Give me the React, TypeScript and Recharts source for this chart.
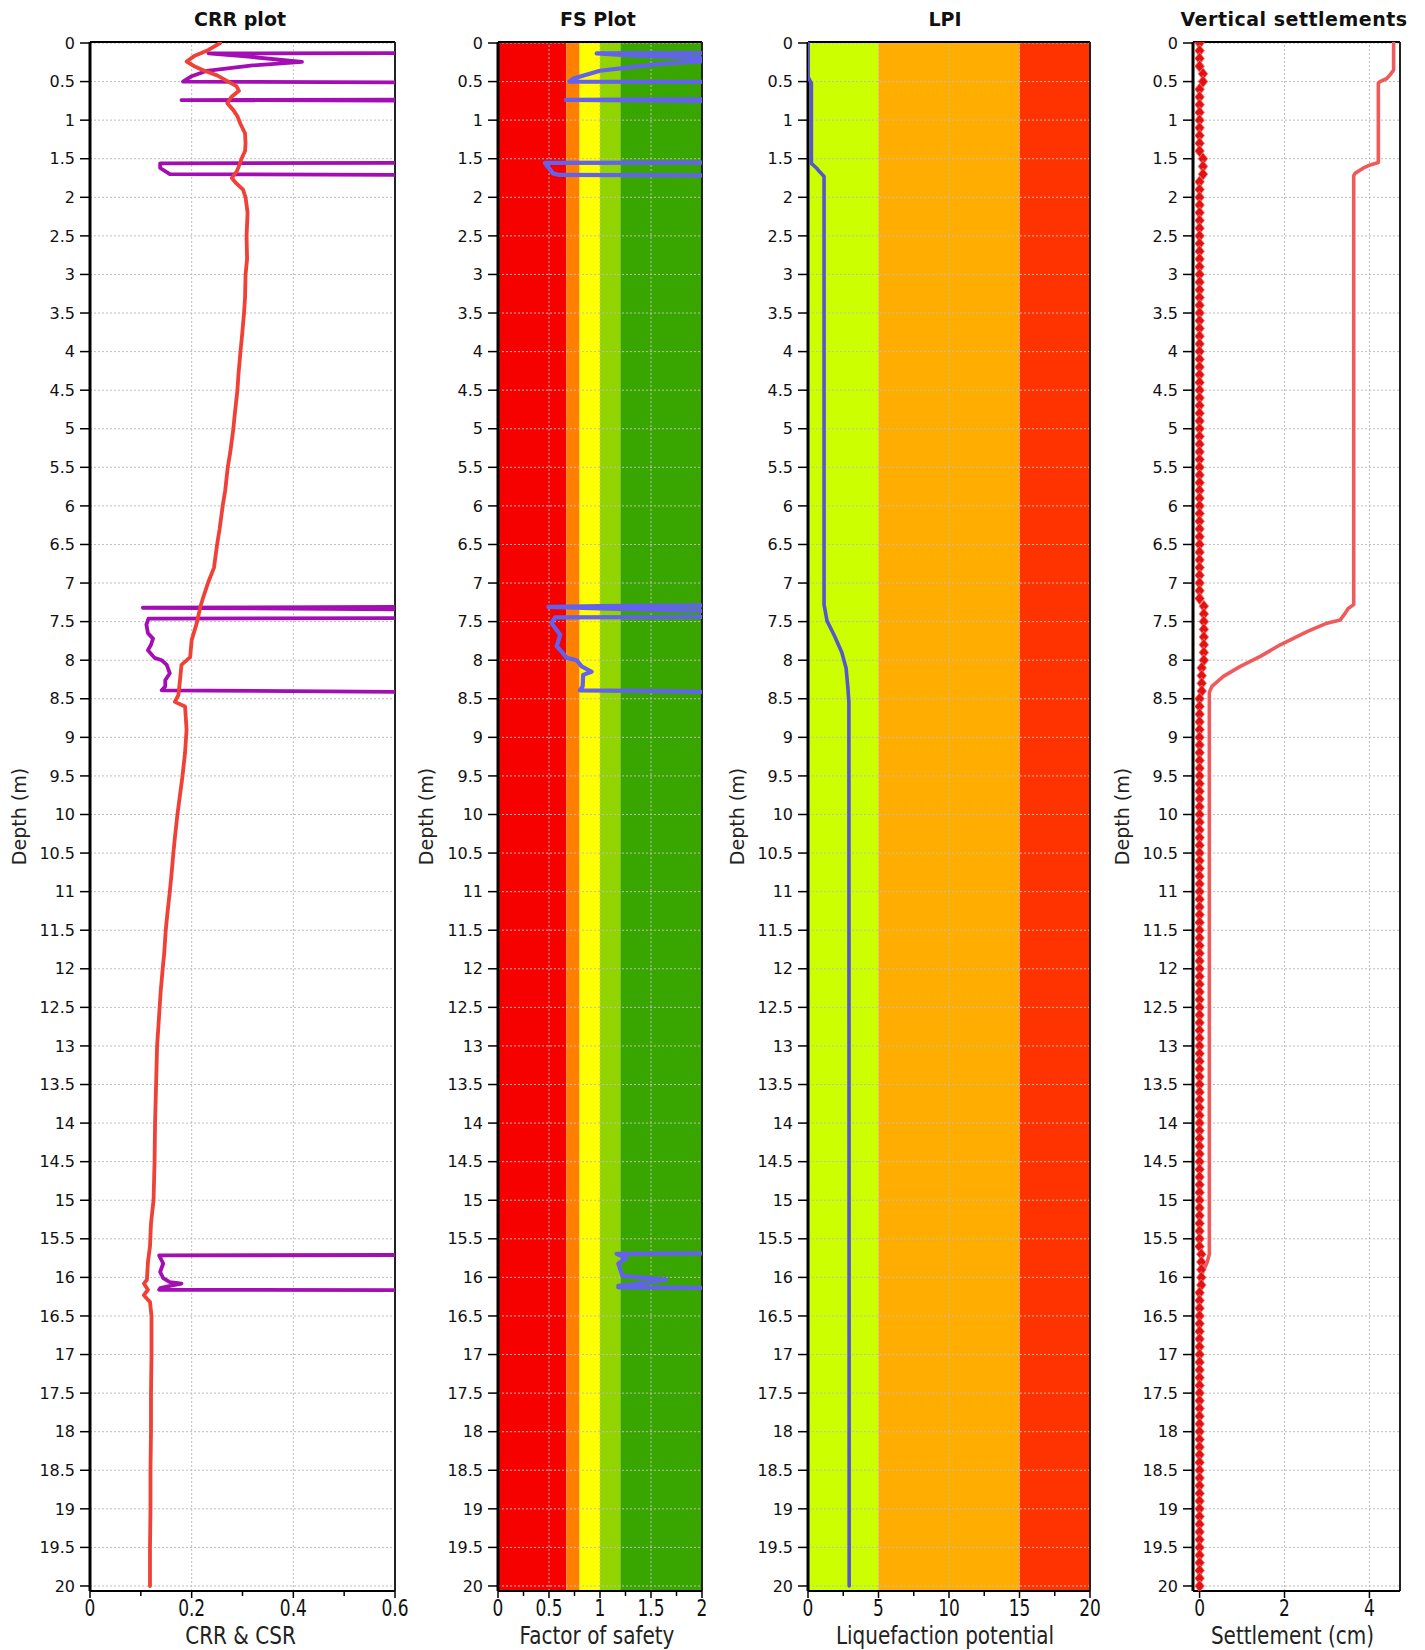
import React from 'react';
import { ScatterChart, Scatter, XAxis, YAxis, ReferenceArea, ReferenceLine } from 'recharts';

const FONT = '"DejaVu Sans", Verdana, sans-serif';

// ---------- depth axis ----------
const depthTicks = [0,0.5,1,1.5,2,2.5,3,3.5,4,4.5,5,5.5,6,6.5,7,7.5,8,8.5,9,9.5,10,10.5,11,11.5,12,12.5,13,13.5,14,14.5,15,15.5,16,16.5,17,17.5,18,18.5,19,19.5,20];
const depthDomain: [number, number] = [-0.013, 20.065];

// ---------- CRR plot ----------
const crrTicks = [0,0.1,0.2,0.3,0.4,0.5,0.6];
const crrMajor = [0,0.2,0.4,0.6];
const crrGrid = [0.2,0.4];
// [depth, CRR]
const crrCurve = [[0,0.256],[0.09,0.233],[0.17,0.205],[0.24,0.19],[0.3,0.205],[0.36,0.225],[0.42,0.25],[0.5,0.272],[0.56,0.288],[0.62,0.293],[0.7,0.278],[0.78,0.27],[0.87,0.282],[0.95,0.29],[1.05,0.296],[1.17,0.305],[1.3,0.306],[1.4,0.305],[1.5,0.298],[1.58,0.294],[1.66,0.289],[1.75,0.279],[1.82,0.288],[1.9,0.301],[2,0.306],[2.2,0.31],[2.5,0.308],[2.8,0.309],[3,0.306],[3.3,0.305],[3.5,0.303],[3.8,0.299],[4,0.296],[4.3,0.292],[4.5,0.29],[4.8,0.285],[5,0.282],[5.3,0.276],[5.5,0.271],[5.8,0.266],[6,0.261],[6.3,0.255],[6.5,0.25],[6.8,0.244],[7,0.232],[7.2,0.222],[7.31,0.217],[7.52,0.21],[7.74,0.2],[7.96,0.197],[8.06,0.18],[8.26,0.177],[8.45,0.174],[8.54,0.167],[8.6,0.187],[8.9,0.19],[9.2,0.187],[9.5,0.182],[9.8,0.176],[10,0.172],[10.3,0.167],[10.5,0.164],[10.8,0.16],[11,0.157],[11.3,0.152],[11.5,0.149],[11.8,0.146],[12,0.143],[12.3,0.139],[12.5,0.137],[12.8,0.134],[13,0.132],[13.5,0.13],[14,0.128],[14.5,0.127],[15,0.125],[15.3,0.12],[15.6,0.118],[15.8,0.114],[16.03,0.112],[16.08,0.106],[16.16,0.114],[16.23,0.106],[16.32,0.118],[16.5,0.121],[17,0.121],[17.5,0.12],[18,0.12],[18.5,0.119],[19,0.119],[19.5,0.118],[20,0.118]];
// [depth, CSR] segments (clipped at 0.6)
const csrTop = [[0.132,0.6],[0.134,0.233],[0.17,0.3],[0.245,0.417],[0.29,0.32],[0.36,0.23],[0.43,0.2],[0.5,0.183],[0.51,0.6]];
const csrSpike1 = [[0.735,0.6],[0.74,0.18],[0.745,0.6]];
const csrLayer1 = [[1.555,0.6],[1.56,0.138],[1.62,0.138],[1.7,0.157],[1.71,0.6]];
const csrSpike2 = [[7.31,0.6],[7.32,0.104],[7.34,0.6]];
const csrLayer2 = [[7.455,0.6],[7.46,0.115],[7.54,0.111],[7.65,0.114],[7.72,0.124],[7.8,0.12],[7.87,0.114],[7.97,0.127],[8.0,0.141],[8.06,0.151],[8.17,0.157],[8.26,0.148],[8.34,0.148],[8.39,0.141],[8.41,0.6]];
const csrLayer3 = [[15.71,0.6],[15.715,0.136],[15.82,0.144],[15.93,0.138],[16.01,0.144],[16.06,0.157],[16.08,0.18],[16.1,0.164],[16.14,0.138],[16.16,0.136],[16.165,0.6]];

// ---------- FS plot ----------
const fsTicks = [0,0.25,0.5,0.75,1,1.25,1.5,1.75,2];
const fsMajor = [0,0.5,1,1.5,2];
const fsGrid = [0.5,1,1.5];
const fsBandEdges = [0,0.67,0.8,1.0,1.2,2];
const fsBandColors = ['#f60000','#ff7f00','#ffff00','#92d400','#39a600'];
const fsTop = [[0.13,2],[0.135,0.967],[0.16,1.3],[0.18,1.7],[0.2,2],[0.24,2],[0.27,1.6],[0.31,1.33],[0.36,1.0],[0.42,0.84],[0.46,0.74],[0.5,0.7],[0.505,2]];
const fsSpike1 = [[0.73,2],[0.738,0.665],[0.745,1.4],[0.755,2]];
const fsLayer1 = [[1.55,2],[1.555,0.46],[1.69,0.54],[1.71,0.6],[1.715,2]];
const fsSpike2 = [[7.29,2],[7.3,1.0],[7.31,0.494],[7.33,1.0],[7.36,2]];
const fsLayer2 = [[7.44,2],[7.445,0.56],[7.52,0.526],[7.61,0.575],[7.67,0.61],[7.76,0.59],[7.82,0.575],[7.89,0.625],[7.97,0.673],[8.0,0.77],[8.08,0.82],[8.15,0.918],[8.19,0.835],[8.34,0.83],[8.39,0.804],[8.4,1.6],[8.41,2]];
const fsLayer3 = [[15.69,2],[15.695,1.163],[15.75,1.26],[15.82,1.18],[15.9,1.2],[15.98,1.22],[16.03,1.65],[16.09,1.33],[16.11,1.18],[16.13,1.18],[16.135,2]];

// ---------- LPI ----------
const lpiTicks = [0,2.5,5,7.5,10,12.5,15,17.5,20];
const lpiMajor = [0,5,10,15,20];
const lpiGrid = [5,10,15];
const lpiBandEdges = [0,5,15,20];
const lpiBandColors = ['#ccff00','#ffae00','#ff3300'];
const lpiCurve = [[0,0],[0.44,0],[0.48,0.12],[0.52,0.24],[1.56,0.24],[1.62,0.6],[1.67,0.83],[1.73,1.14],[7.28,1.14],[7.49,1.35],[7.69,1.89],[7.9,2.4],[8.1,2.7],[8.38,2.84],[8.55,2.9],[20,2.92]];

// ---------- Vertical settlements ----------
const setTicks = [0,2,4];
const setMajor = [0,2,4];
const setGrid = [2,4];
const setDomain: [number, number] = [-0.155, 4.72];
const settleCurve = [[0,4.57],[0.35,4.57],[0.41,4.49],[0.46,4.41],[0.5,4.25],[0.52,4.21],[1.55,4.21],[1.58,4.02],[1.62,3.86],[1.69,3.66],[1.72,3.63],[7.28,3.63],[7.33,3.5],[7.39,3.43],[7.48,3.31],[7.52,3.0],[7.63,2.53],[7.8,1.9],[7.95,1.43],[8.08,0.96],[8.21,0.56],[8.34,0.29],[8.39,0.25],[8.42,0.23],[15.7,0.23],[15.8,0.18],[15.9,0.1],[16.0,0.03],[16.1,0],[20,0]];
const markerDepths = [
0,0.1,0.2,0.3,0.4,0.5,0.6,0.7,0.8,0.9,
1,1.1,1.2,1.3,1.4,1.5,1.6,1.7,1.8,1.9,
2,2.1,2.2,2.3,2.4,2.5,2.6,2.7,2.8,2.9,
3,3.1,3.2,3.3,3.4,3.5,3.6,3.7,3.8,3.9,
4,4.1,4.2,4.3,4.4,4.5,4.6,4.7,4.8,4.9,
5,5.1,5.2,5.3,5.4,5.5,5.6,5.7,5.8,5.9,
6,6.1,6.2,6.3,6.4,6.5,6.6,6.7,6.8,6.9,
7,7.1,7.2,7.3,7.4,7.5,7.6,7.7,7.8,7.9,
8,8.1,8.2,8.3,8.4,8.5,8.6,8.7,8.8,8.9,
9,9.1,9.2,9.3,9.4,9.5,9.6,9.7,9.8,9.9,
10,10.1,10.2,10.3,10.4,10.5,10.6,10.7,10.8,10.9,
11,11.1,11.2,11.3,11.4,11.5,11.6,11.7,11.8,11.9,
12,12.1,12.2,12.3,12.4,12.5,12.6,12.7,12.8,12.9,
13,13.1,13.2,13.3,13.4,13.5,13.6,13.7,13.8,13.9,
14,14.1,14.2,14.3,14.4,14.5,14.6,14.7,14.8,14.9,
15,15.1,15.2,15.3,15.4,15.5,15.6,15.7,15.8,15.9,
16,16.1,16.2,16.3,16.4,16.5,16.6,16.7,16.8,16.9,
17,17.1,17.2,17.3,17.4,17.5,17.6,17.7,17.8,17.9,
18,18.1,18.2,18.3,18.4,18.5,18.6,18.7,18.8,18.9,
19,19.1,19.2,19.3,19.4,19.5,19.6,19.7,19.8,19.9,
20];
const markerValues = [
0,0,0,0,0.08,0.08,0,0,0,0,
0,0,0,0,0,0.08,0.08,0.08,0,0,
0,0,0,0,0,0,0,0,0,0,
0,0,0,0,0,0,0,0,0,0,
0,0,0,0,0,0,0,0,0,0,
0,0,0,0,0,0,0,0,0,0,
0,0,0,0,0,0,0,0,0,0,
0,0,0,0.1,0.1,0.1,0.1,0.1,0.1,0.1,
0.1,0.05,0.05,0.05,0.05,0,0,0,0,0,
0,0,0,0,0,0,0,0,0,0,
0,0,0,0,0,0,0,0,0,0,
0,0,0,0,0,0,0,0,0,0,
0,0,0,0,0,0,0,0,0,0,
0,0,0,0,0,0,0,0,0,0,
0,0,0,0,0,0,0,0,0,0,
0,0,0,0,0,0,0,0.04,0.04,0.04,
0.04,0.04,0,0,0,0,0,0,0,0,
0,0,0,0,0,0,0,0,0,0,
0,0,0,0,0,0,0,0,0,0,
0,0,0,0,0,0,0,0,0,0,
0];

// ---------- helpers ----------
const toPts = (arr: number[][]) => arr.map(([d, x]) => ({ d, x }));
const markerPts = markerDepths.map((d, i) => ({ d, x: markerValues[i] }));

const NoShape = () => <g />;
const Marker = (p: any) => {
  const { cx, cy } = p;
  return (
    <path d={`M${cx},${cy - 6} L${cx + 4.8},${cy} L${cx},${cy + 6} L${cx - 4.8},${cy} Z`} fill="#e31212" stroke="#f27a7a" strokeWidth={0.8} />
  );
};

const XTick = (props: any) => {
  const { x, y, payload, major } = props;
  const v = payload.value;
  const isMajor = major.indexOf(v) >= 0;
  return (
    <g>
      <line x1={x} x2={x} y1={y} y2={y + (isMajor ? 7 : 5)} stroke="#000" strokeWidth={1.5} />
      {isMajor ? (
        <g transform={`translate(${x},${y + 25}) scale(1,1.3)`}>
          <text x={0} y={0} textAnchor="middle" fontSize={17} fontFamily={FONT} fill="#111">{String(v)}</text>
        </g>
      ) : null}
    </g>
  );
};

const XTitle = (props: any) => {
  const { viewBox, text, shift, base } = props;
  const cx = viewBox.x + viewBox.width / 2 + shift;
  const by = viewBox.y + base;
  return (
    <g transform={`translate(${cx},${by}) scale(1,1.2)`}>
      <text x={0} y={0} textAnchor="middle" fontSize={20} fontFamily={FONT} fill="#222">{text}</text>
    </g>
  );
};

const YTitle = (props: any) => {
  const { viewBox, dx } = props;
  const cx = viewBox.x + dx;
  const cy = viewBox.y + viewBox.height / 2;
  return (
    <text x={cx} y={cy} transform={`rotate(-90 ${cx} ${cy})`} textAnchor="middle" dominantBaseline="central" fontSize={19} fontFamily={FONT} fill="#222">
      Depth (m)
    </text>
  );
};

type Cfg = {
  title: string; titleX: number; titleSpacing?: number;
  left: number; width: number; yw: number; right: number;
  domain: [number, number]; ticks: number[]; major: number[]; grid: number[];
  edges: number[]; colors: string[];
  xTitle: string; xShift: number; xBase: number; yDx: number;
};

const GRID = '#bdbdbd';

const renderPanel = (c: Cfg, series: React.ReactNode[]) => (
  <React.Fragment key={c.title}>
    <div style={{ position: 'absolute', left: c.titleX - 200, width: 400, top: 8, textAlign: 'center', fontFamily: FONT, fontWeight: 'bold', fontSize: 19, lineHeight: '22px', color: '#111', letterSpacing: c.titleSpacing || 0 }}>
      {c.title}
    </div>
    <div style={{ position: 'absolute', left: c.left, top: 0 }}>
      <ScatterChart width={c.width} height={1650} margin={{ top: 42, right: c.right, bottom: 9, left: 0 }}>
        <XAxis type="number" dataKey="x" domain={c.domain} ticks={c.ticks} interval={0} allowDataOverflow height={50}
          tickSize={0} tickMargin={0} tickLine={false} axisLine={{ stroke: '#000', strokeWidth: 2 }}
          tick={<XTick major={c.major} />}
          label={<XTitle text={c.xTitle} shift={c.xShift} base={c.xBase} />} />
        <YAxis type="number" dataKey="d" domain={depthDomain} reversed ticks={depthTicks} interval={0} allowDataOverflow width={c.yw}
          tickSize={10} tickMargin={5} tickLine={{ stroke: '#000', strokeWidth: 1.5 }} axisLine={{ stroke: '#000', strokeWidth: 3 }}
          tick={{ fontSize: 16, fontFamily: FONT, fill: '#111' }}
          label={<YTitle dx={c.yDx} />} />
        {c.colors.map((col, i) => (
          <ReferenceArea key={'band' + i} x1={c.edges[i]} x2={c.edges[i + 1]} fill={col} fillOpacity={1} stroke="none" ifOverflow="visible" />
        ))}
        {depthTicks.map((t) => (
          <ReferenceLine key={'h' + t} y={t} stroke={GRID} strokeDasharray="2 2" strokeWidth={1} ifOverflow="visible" />
        ))}
        {c.grid.map((g) => (
          <ReferenceLine key={'v' + g} x={g} stroke={GRID} strokeDasharray="2 2" strokeWidth={1} ifOverflow="visible" />
        ))}
        <ReferenceLine key="frameTop" y={depthDomain[0]} stroke="#000" strokeWidth={2} ifOverflow="visible" />
        <ReferenceLine key="frameRight" x={c.domain[1]} stroke="#222" strokeWidth={2} ifOverflow="visible" />
        {series}
      </ScatterChart>
    </div>
  </React.Fragment>
);

const lineSeries = (key: string, arr: number[][], color: string, w: number) => (
  <Scatter key={key} data={toPts(arr)} fill={color} line={{ stroke: color, strokeWidth: w, strokeLinejoin: 'round', strokeLinecap: 'round' }}
    shape={NoShape} isAnimationActive={false} legendType="none" />
);

const PURPLE = '#a30db3';
const FSBLUE = '#6262ee';

export default function App() {
  const crrCfg: Cfg = {
    title: 'CRR plot', titleX: 240, left: 0, width: 420, yw: 90, right: 25,
    domain: [0, 0.6], ticks: crrTicks, major: crrMajor, grid: crrGrid, edges: [], colors: [],
    xTitle: 'CRR & CSR', xShift: -2, xBase: 53, yDx: 19,
  };
  const fsCfg: Cfg = {
    title: 'FS Plot', titleX: 598, left: 400, width: 327, yw: 98, right: 25,
    domain: [0, 2], ticks: fsTicks, major: fsMajor, grid: fsGrid, edges: fsBandEdges, colors: fsBandColors,
    xTitle: 'Factor of safety', xShift: -3, xBase: 53, yDx: 26,
  };
  const lpiCfg: Cfg = {
    title: 'LPI', titleX: 945, left: 710, width: 405, yw: 98, right: 25,
    domain: [0, 20], ticks: lpiTicks, major: lpiMajor, grid: lpiGrid, edges: lpiBandEdges, colors: lpiBandColors,
    xTitle: 'Liquefaction potential', xShift: -4, xBase: 53, yDx: 27,
  };
  const setCfg: Cfg = {
    title: 'Vertical settlements', titleX: 1294, titleSpacing: 0.5, left: 1095, width: 325, yw: 98, right: 20,
    domain: setDomain, ticks: setTicks, major: setMajor, grid: setGrid, edges: [], colors: [],
    xTitle: 'Settlement (cm)', xShift: -4, xBase: 53, yDx: 27,
  };

  return (
    <div style={{ position: 'absolute', left: 0, top: 0, width: 1425, height: 1650, background: '#fff', overflow: 'hidden' }}>
      {renderPanel(crrCfg, [
        lineSeries('csrTop', csrTop, PURPLE, 3.8),
        lineSeries('csrSpike1', csrSpike1, PURPLE, 3.8),
        lineSeries('csrLayer1', csrLayer1, PURPLE, 3.8),
        lineSeries('csrSpike2', csrSpike2, PURPLE, 3.8),
        lineSeries('csrLayer2', csrLayer2, PURPLE, 3.8),
        lineSeries('csrLayer3', csrLayer3, PURPLE, 3.8),
        lineSeries('crr', crrCurve, '#ef4136', 3.8),
      ])}
      {renderPanel(fsCfg, [
        lineSeries('fsTop', fsTop, FSBLUE, 4.2),
        lineSeries('fsSpike1', fsSpike1, FSBLUE, 4.2),
        lineSeries('fsLayer1', fsLayer1, FSBLUE, 4.2),
        lineSeries('fsSpike2', fsSpike2, FSBLUE, 4.2),
        lineSeries('fsLayer2', fsLayer2, FSBLUE, 4.2),
        lineSeries('fsLayer3', fsLayer3, FSBLUE, 4.2),
      ])}
      {renderPanel(lpiCfg, [
        lineSeries('lpi', lpiCurve, '#5656d0', 3.6),
      ])}
      {renderPanel(setCfg, [
        lineSeries('settle', settleCurve, '#ef5b5b', 3.6),
        <Scatter key="markers" data={markerPts} fill="#e31212" shape={Marker} isAnimationActive={false} legendType="none" />,
      ])}
    </div>
  );
}
